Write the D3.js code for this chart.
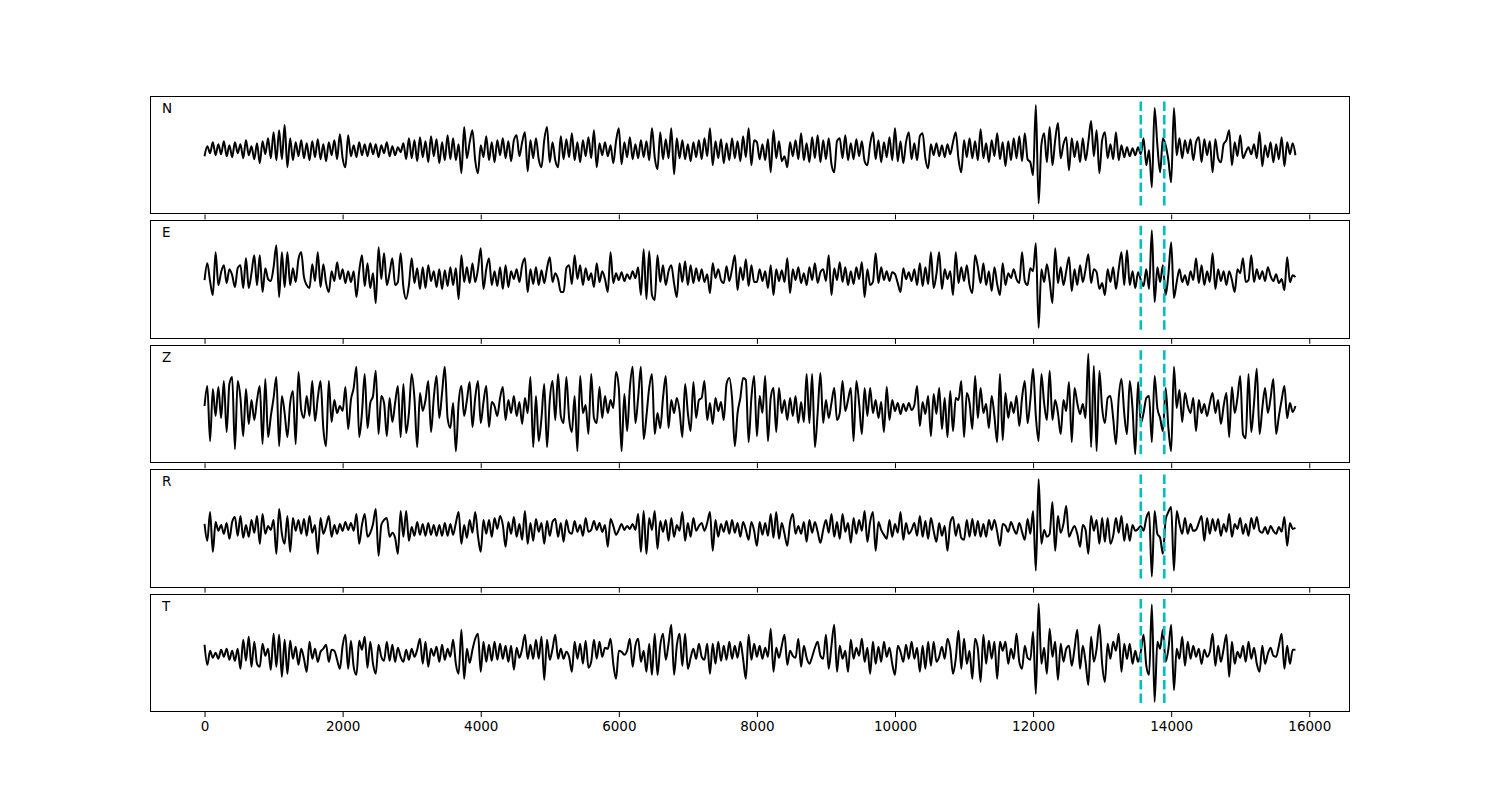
<!DOCTYPE html>
<html><head><meta charset="utf-8">
<script src="https://cdn.jsdelivr.net/npm/d3@7/dist/d3.min.js"></script>
<style>
body{margin:0;background:#fff}
svg{display:block}
text{font-family:"DejaVu Sans",sans-serif;fill:#000}
</style>
</head><body>
<svg id="chart" width="1500" height="800"></svg>
<script>
// ---- data ----
const channels = ["N", "E", "Z", "R", "T"];
const sampleStart = 0;
const sampleStep = 40;
const pickTimes = [13560, 13900];
const xTickValues = [0, 2000, 4000, 6000, 8000, 10000, 12000, 14000, 16000];

const traceN = [
-6,4,-3,8,-5,6,-4,9,-6,5, -7,8,-3,6,-8,10,-5,4,-9,7, -13,9,-4,12,-8,18,-10,20,-9,25,
-17,12,-10,8,-6,10,-8,7,-10,9, -7,11,-9,6,-11,8,-5,10,-9,16, -8,-17,15,-6,5,-7,8,-5,6,-6,
7,-4,6,-7,5,-3,8,-6,4,-5, 3,-2,7,-9,12,-8,10,-11,13,-7, 9,-12,14,-6,11,-13,8,-10,15,-9,
12,-10,6,-23,23,-8,8,20,-10,-23, 5,-7,14,-10,8,-12,10,-5,12,-8, 9,-11,10,15,-6,8,18,-21,10,-8,
12,-9,-17,10,23,-12,8,-10,-17,14, -9,11,-7,17,-10,8,-12,10,-6,13, -8,20,-17,7,-5,8,-6,5,-13,9,
22,-14,8,-7,13,-9,6,-8,10,-7, 9,-10,22,-7,-19,18,-9,11,-8,22, -24,12,-8,10,-9,6,-11,8,-7,10,
-9,12,-6,22,-15,9,-8,11,-13,7, -10,12,-8,9,-11,14,-7,22,-15,10, 8,-9,6,-10,11,-22,20,-8,9,-11,
-6,-17,8,-6,10,-9,17,-10,7,-12, 13,-8,15,-12,10,-9,12,-14,-22,9, 12,-8,15,-10,7,-9,11,-6,9,-11,
-15,6,18,-9,10,-12,8,-7,13,-10, 22,-11,9,-13,8,18,-9,7,-10,14, 17,-8,-18,6,-5,7,-6,5,-7,6,
-4,8,18,-9,-22,10,-7,12,-8,9, -10,21,-8,7,-12,10,-6,17,-9,8, -16,9,-10,12,-8,14,-11,17,-9,-12,
-25,45,-53,5,17,-12,23,-15,10,27, -8,6,13,-20,12,-7,9,-12,12,-10, 8,29,-6,20,-23,10,18,-8,6,-9,
18,-10,5,-7,3,-6,2,-5,3,-4, 12,-15,0,-37,42,5,-22,12,5,-10, -32,42,-5,12,-8,10,-3,11,-10,8,
13,-12,11,-5,9,-22,11,-8,-12,6, 10,20,-15,8,-6,15,-8,-2,3,-4, 6,-8,18,-16,5,-7,8,-12,6,-9,
13,-16,8,-4,7,-5
];

const traceE = [
-3,14,-4,-18,25,-8,5,12,-6,8, 2,-10,9,12,-11,19,-11,4,22,-8, 22,-15,9,-2,-4,10,32,-20,25,-10,
25,-8,9,-5,18,25,0,-8,-11,13, -4,25,-10,13,-6,-15,6,-4,15,-2, 8,-6,6,-5,6,-20,6,22,-9,14,
-11,4,-26,30,-2,24,-8,4,19,-8, -5,24,-10,-22,-8,19,-6,9,-12,10, -11,12,-4,6,-10,8,-12,7,-9,10,
-8,9,-22,22,-5,10,-6,14,-5,8, 29,-12,8,19,-8,6,-9,10,-12,12, -10,6,-2,8,-5,12,19,-15,8,-7,
10,-8,7,-6,9,20,-5,4,-2,-15, -15,9,12,-7,22,-2,12,-8,9,-3, 4,-10,14,-5,6,-2,-15,25,-6,4,
-3,5,-4,3,-2,6,-1,10,-18,28, -22,26,-18,-23,22,-5,12,-8,6,12, -6,-20,14,-5,16,-8,12,-6,9,-4,
8,-5,3,-16,14,-1,8,-3,-6,11, -4,8,22,-13,10,-3,18,-9,12,-5, -5,8,-4,6,-11,12,-18,8,-4,7,
-5,19,-16,8,-3,10,-6,4,-8,10, -3,14,-6,5,8,-4,22,-18,9,-3, 15,-5,10,-8,6,-7,10,-2,15,-20,
8,-8,-5,24,-6,10,-3,6,-4,5, 3,-6,-15,9,-2,5,-4,8,-8,14, -9,10,-7,25,-11,3,25,-12,8,-2,
6,-18,25,-6,10,-4,12,-8,-16,22, 10,-6,14,-8,6,-14,10,-7,-18,14, -8,4,-1,8,-2,-6,25,-4,-8,9,
6,34,-51,8,-5,13,-4,-26,29,-6, 10,-8,6,20,-14,8,-8,12,-5,8, 23,-6,8,5,-12,-6,-18,8,-5,10,
-12,8,25,-8,27,-8,6,-11,5,-3, -9,8,-12,47,-25,10,-5,12,-18,3, 35,-21,-5,8,-5,2,-8,6,-3,19,
-6,12,-8,6,-5,24,-12,8,-4,6, -8,6,-3,-15,8,4,19,-5,-3,22, -5,8,-2,6,-4,10,1,-4,3,-6,
-2,-13,20,-5,2,0
];

const traceZ = [
2,22,-33,19,-8,21,-10,27,-24,24, 31,-41,27,10,-28,19,-16,8,-12,8, 22,-36,29,-29,-8,10,31,-38,12,-5,
-29,5,17,-36,36,-2,-10,12,-8,27, -13,10,27,-20,-38,27,-14,8,-5,2, -3,21,-21,8,20,41,-29,-5,34,-20,
5,12,37,-26,12,5,-28,10,-14,5, 22,-29,24,-25,-5,34,10,-39,15,-3, 8,27,-24,10,32,-10,15,41,-10,-20,
5,-43,5,22,-8,8,26,-19,10,27, -15,6,22,-19,6,2,-8,10,21,-12, 8,-5,12,-8,6,-16,10,-5,31,-39,
12,-33,-10,24,-39,8,27,-12,34,-8, -15,31,-10,-24,12,-43,32,-5,3,-26, 34,-10,-15,21,-10,12,-5,8,0,36,
20,-43,14,-23,20,41,-15,10,41,-31, -8,20,34,-26,-5,-20,10,32,-20,8, -5,10,-3,-29,24,-5,-23,26,-10,8,
10,27,-12,5,-16,10,-3,6,-12,24, 30,10,-38,-5,10,30,28,-34,10,32, -28,12,-5,32,-33,10,20,-24,20,-5,
8,-12,10,-8,12,-15,6,-14,34,-15, 34,-39,-5,35,-15,8,-10,5,20,-12, -5,27,-3,8,20,-33,27,5,-26,20,
-8,20,-5,8,-10,6,-24,21,-12,8, -3,5,-6,4,-3,5,-2,3,22,-18, 6,-6,12,-28,14,-6,20,-21,10,-29,
17,-23,10,8,27,-29,15,5,-21,32, -10,20,-5,4,-20,12,-8,-34,34,-32, 15,-10,6,-5,12,-18,10,27,-15,8,
39,-8,-33,34,5,-12,37,-12,8,-5, -26,8,-3,26,-34,20,5,-6,4,-10, 54,-39,42,-43,37,0,-15,10,12,-10,
-36,10,29,-5,-26,27,0,-46,26,-15, -5,10,12,-34,32,0,-10,-23,20,-20, -43,41,0,18,-14,15,2,-5,10,-23,
8,-5,4,-8,5,15,-5,8,-16,2, 15,-29,21,-5,10,32,-26,-30,34,-24, 5,39,-26,0,20,-5,10,29,-26,-8,
8,22,-10,5,-4,2
];

const traceR = [
4,-13,16,-24,6,-3,3,-6,5,-11, 6,11,-8,12,-10,3,-9,8,-5,12, -16,14,-6,2,-2,8,-26,19,-6,-16,
12,-24,10,-3,8,-6,9,-8,12,-5, 3,-26,10,-6,2,12,-9,3,-6,4, -3,6,-2,5,-3,14,-16,3,14,-9,
-5,4,19,-28,3,8,10,-9,-5,-10, -26,17,-9,17,-13,1,-8,6,-7,4, -8,5,-7,3,-8,3,-8,5,-8,4,
-7,5,16,-16,3,-10,8,-5,16,-8, -24,8,-6,8,-9,10,-1,12,3,-19, 6,-6,11,-9,4,-12,17,-16,5,-13,
9,-4,5,-16,7,-8,6,9,-9,5, -14,8,-4,-6,7,-4,3,-8,10,-4, -2,7,-2,5,-4,3,-19,9,2,-7,
-2,4,-2,2,-1,4,-2,14,-24,17, -26,10,-2,17,-21,7,-4,8,-13,10, -9,3,-3,16,-13,5,-9,10,-3,2,
5,-3,5,16,-23,8,-9,4,-4,7, -6,8,-5,5,-9,6,-2,-12,6,-3, -18,6,-7,5,-8,14,-10,16,-11,5,
-6,-18,5,14,-6,2,-6,6,-14,8, -5,6,-4,-15,-2,8,-5,14,-9,6, -11,14,-4,5,-15,10,-6,8,-3,17,
-14,6,16,-23,6,-2,-7,-11,8,-9, 4,-5,16,-12,5,-6,-2,5,-8,12, -9,7,-11,10,-3,-14,5,-8,2,-23,
5,11,-8,4,-10,-12,8,-9,9,-8, 7,-9,4,-9,8,-2,8,-4,-18,4, 2,-4,6,-1,-6,5,-4,-12,9,-6,
17,-43,49,-16,-2,-9,-6,26,-23,12, -5,4,22,-9,-3,2,-6,-19,3,-2, -26,12,-3,8,-16,10,-14,10,-16,-8,
10,-5,12,-13,4,-13,3,-3,-1,2, -3,10,16,-49,17,-6,-10,-26,8,16, 21,-43,17,4,-6,10,-6,4,-3,-2,
5,12,-13,10,-6,9,-3,9,-8,4, -4,14,-9,4,-1,10,-6,4,-8,10, -1,11,-3,-5,1,-6,2,-3,-6,1,
-4,11,-18,5,-1,0
];

const traceT = [
9,-11,3,-4,1,-5,4,-3,5,-6, 3,-7,5,-15,14,-7,17,-13,12,-10, -13,10,-2,5,-16,20,-13,19,-23,14,
-20,13,-5,7,-11,5,-5,-18,12,-5, 5,-8,2,5,9,-8,4,3,-6,-15, 8,19,-15,13,-13,-21,13,4,17,-14,
12,-10,-20,9,-3,-7,12,-7,9,-8, 6,-3,-8,4,-6,5,-3,4,15,-10, 12,-13,5,-2,7,-8,9,-6,5,-3,
14,-10,-20,24,-25,5,-9,4,15,20, -18,12,-8,9,-7,12,-6,10,-5,8, -8,8,-16,6,-4,5,19,-5,9,-5,
14,-5,17,-26,14,-6,5,19,-5,5, -5,2,-3,-18,12,-5,10,-10,13,-14, -8,14,-5,12,-3,6,5,15,-10,-25,
3,2,-1,3,15,-13,8,15,-8,3, -18,10,-21,20,-21,8,20,-6,10,29, -21,8,20,-12,20,-15,-4,5,-5,10,
-3,-6,10,-20,10,-10,12,-7,8,-6, 12,-5,8,-4,12,-5,-25,19,-6,10, -3,8,-5,6,-3,25,-18,6,-4,8,
19,-11,3,-2,-4,15,-13,8,-4,-10, -3,6,12,-2,-5,19,-15,8,29,-18, 8,-5,3,-18,14,-5,6,-2,15,-8,
6,-20,12,-10,7,-8,12,-3,6,-10, -21,8,2,-8,9,-5,12,-5,6,-18, 8,-15,12,-12,12,-8,-3,7,-5,15,
5,-20,-5,23,-15,15,-10,3,-25,15, 5,-28,19,-10,13,-5,12,-25,12,3, 12,-10,5,-5,20,-8,-15,8,-4,-6,
22,-40,50,-10,6,-20,25,-3,12,-26, 10,-8,5,8,-12,5,24,-15,8,-8, -31,17,-8,5,29,-10,-28,10,-5,12,
3,20,-18,10,-5,10,-10,3,-8,2, 19,-12,-21,49,-48,12,5,24,-8,5, 29,-36,5,-5,17,-12,12,-5,8,-3,
5,-10,4,-3,2,20,-12,8,-8,5, 19,-23,12,-10,2,-4,8,-8,12,-5, 6,-10,-18,8,-10,0,6,-2,-3,8,
20,-15,8,-10,4,4
];

const traces = [traceN, traceE, traceZ, traceR, traceT];
// vertical limits of each panel (amplitude units)
const yLimits = [[-64, 54], [-62, 57], [-55, 63], [-60, 59], [-58, 60]];

// ---- layout ----
const svg = d3.select("#chart");
const plotLeft = 150, plotRight = 1350, plotTop = 96, plotBottom = 712;
const hspace = 0.05;
const nP = channels.length;
const panelH = (plotBottom - plotTop) / (nP + (nP - 1) * hspace);
const panelGap = panelH * hspace;

const maxLen = d3.max(traces, t => t.length);
const tMin = sampleStart, tMax = sampleStart + (maxLen - 1) * sampleStep;
const xPad = 0.05 * (tMax - tMin);
const x = d3.scaleLinear().domain([tMin - xPad, tMax + xPad]).range([plotLeft, plotRight]);

channels.forEach((ch, i) => {
  const y0 = plotTop + i * (panelH + panelGap);
  const g = svg.append("g").attr("transform", `translate(0,${y0})`);
  const y = d3.scaleLinear().domain(yLimits[i]).range([panelH, 0]);

  const clipId = "clip" + i;
  g.append("clipPath").attr("id", clipId)
    .append("rect").attr("x", plotLeft).attr("y", 0)
    .attr("width", plotRight - plotLeft).attr("height", panelH);

  const line = d3.line()
    .x((d, j) => x(sampleStart + j * sampleStep))
    .y(d => y(d))
    .curve(d3.curveMonotoneX);

  g.append("path")
    .datum(traces[i])
    .attr("clip-path", `url(#${clipId})`)
    .attr("d", line)
    .attr("fill", "none")
    .attr("stroke", "#000")
    .attr("stroke-width", 2)
    .attr("stroke-linejoin", "round");

  // pick markers
  const inset = panelH * 0.05 / 1.1;
  g.selectAll("line.pick").data(pickTimes).enter().append("line")
    .attr("class", "pick")
    .attr("x1", d => x(d)).attr("x2", d => x(d))
    .attr("y1", inset).attr("y2", panelH - inset)
    .attr("stroke", "#00bfbf")
    .attr("stroke-width", 2.6)
    .attr("stroke-dasharray", "9.5,4");

  // frame
  g.append("rect")
    .attr("x", plotLeft + 0.5).attr("y", 0.5)
    .attr("width", plotRight - plotLeft - 1).attr("height", panelH - 1)
    .attr("fill", "none").attr("stroke", "#000").attr("stroke-width", 1)
    .attr("shape-rendering", "crispEdges");

  // x axis ticks
  const isLast = i === nP - 1;
  const axis = d3.axisBottom(x).tickValues(xTickValues).tickSizeOuter(0)
    .tickSize(5).tickPadding(4)
    .tickFormat(isLast ? d3.format("d") : () => "");
  const ag = g.append("g").attr("transform", `translate(0,${panelH})`).call(axis);
  ag.select(".domain").remove();
  ag.selectAll(".tick line").attr("stroke", "#000").attr("stroke-width", 1);
  ag.selectAll(".tick text").attr("font-size", "13.5px").attr("font-family", "DejaVu Sans, sans-serif").attr("fill", "#000");

  // channel label
  g.append("text")
    .attr("x", plotLeft + 12).attr("y", 17)
    .attr("font-size", "13.5px")
    .text(ch);
});
</script>
</body></html>
